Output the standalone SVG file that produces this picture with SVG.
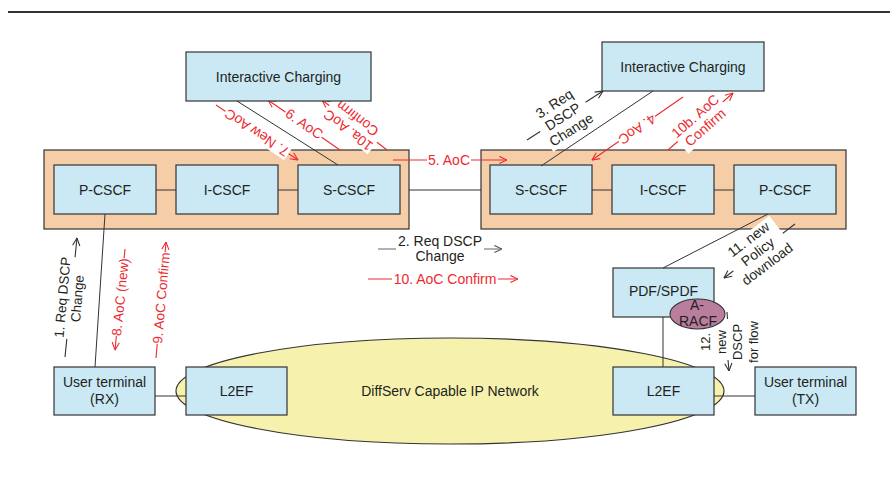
<svg xmlns="http://www.w3.org/2000/svg" width="893" height="478" viewBox="0 0 893 478">
<defs>
<style>
.t{font-family:"Liberation Sans",Arial,Helvetica,sans-serif;font-size:14px;fill:#231f20;text-anchor:middle}
.s13{font-size:13.5px}
.s12{font-size:13px}
.red{fill:#ed2a2f}
.box{fill:#cae9f5;stroke:#333;stroke-width:1.2}
.grp{fill:#f5cea7;stroke:#333;stroke-width:1.2}
.link{stroke:#333;stroke-width:1;fill:none}
.mk{stroke:#333;stroke-width:1.1;fill:none}
.mr{stroke:#ed2a2f;stroke-width:1.1;fill:none}
.mg{stroke:#666;stroke-width:1.1;fill:none}
.bg{fill:#fff}
</style>
<marker id="ak" viewBox="0 0 10 10" refX="9.5" refY="5" markerWidth="9" markerHeight="9" markerUnits="userSpaceOnUse" orient="auto"><path d="M1,1 L9.5,5 L1,9" fill="none" stroke="#333" stroke-width="1.2"/></marker>
<marker id="ar" viewBox="0 0 10 10" refX="9.5" refY="5" markerWidth="9" markerHeight="9" markerUnits="userSpaceOnUse" orient="auto"><path d="M1,1 L9.5,5 L1,9" fill="none" stroke="#ed2a2f" stroke-width="1.2"/></marker>
<marker id="ag" viewBox="0 0 10 10" refX="9.5" refY="5" markerWidth="9" markerHeight="9" markerUnits="userSpaceOnUse" orient="auto"><path d="M1,1 L9.5,5 L1,9" fill="none" stroke="#555" stroke-width="1.2"/></marker>
</defs>

<line x1="8" y1="12" x2="890" y2="12" stroke="#333" stroke-width="2"/>

<g id="domain-left"><rect class="grp" x="44" y="150" width="365" height="79"/></g>
<g id="domain-right"><rect class="grp" x="481" y="150" width="365" height="79"/></g>

<g id="messages">
  <g id="msg1">
    <line class="mk" x1="65" y1="357" x2="77" y2="238" marker-end="url(#ak)"/>
    <g transform="translate(71,298) rotate(-85)"><rect class="bg" x="-41" y="-16" width="82" height="31"/><text class="t s13" y="-4">1. Req DSCP</text><text class="t s13" y="11">Change</text></g>
  </g>
  <g id="msg8">
    <line class="mr" x1="125" y1="249" x2="115" y2="350" marker-end="url(#ar)"/>
    <g transform="translate(120,297) rotate(-84.3)"><rect class="bg" x="-39" y="-8" width="78" height="16"/><text class="t s13 red" y="5">8. AoC (new)</text></g>
  </g>
  <g id="msg9">
    <line class="mr" x1="156" y1="358" x2="166" y2="242" marker-end="url(#ar)"/>
    <g transform="translate(161,298) rotate(-85.1)"><rect class="bg" x="-46" y="-8" width="92" height="16"/><text class="t s13 red" y="5">9. AoC Confirm</text></g>
  </g>
  <g id="msg2">
    <line class="mg" x1="378" y1="249" x2="502" y2="249" marker-end="url(#ag)"/>
    <g transform="translate(440,249)"><rect class="bg" x="-44" y="-14" width="88" height="28"/><text class="t" y="-3">2. Req DSCP</text><text class="t" y="11.5">Change</text></g>
  </g>
  <g id="msg10">
    <line class="mr" x1="368" y1="279" x2="518" y2="279" marker-end="url(#ar)"/>
    <g transform="translate(445,279)"><rect class="bg" x="-53" y="-8" width="106" height="16"/><text class="t red" y="4.5">10. AoC Confirm</text></g>
  </g>
  <g id="msg5">
    <line class="mr" x1="393" y1="160" x2="507" y2="160" marker-end="url(#ar)"/>
    <g transform="translate(449,160)"><rect class="bg" x="-22" y="-8" width="44" height="16"/><text class="t red" y="4.5">5. AoC</text></g>
  </g>
  <g id="msg7">
    <line class="mr" x1="216" y1="105" x2="298" y2="160" marker-end="url(#ar)"/>
    <g transform="translate(257,132.5) rotate(213.8)"><rect class="bg" x="-38" y="-8" width="76" height="16"/><text class="t red" y="4.5">7. New AoC</text></g>
  </g>
  <g id="msg6">
    <line class="mr" x1="340" y1="150" x2="268" y2="100" marker-end="url(#ar)"/>
    <g transform="translate(304,124) rotate(34.8)"><rect class="bg" x="-22" y="-8" width="44" height="16"/><text class="t red" y="4.5">6. AoC</text></g>
  </g>
  <g id="msg10a">
    <line class="mr" x1="387" y1="150" x2="322" y2="100" marker-end="url(#ar)"/>
    <g transform="translate(353,124) rotate(217.6)"><rect class="bg" x="-30" y="-15" width="60" height="31"/><text class="t red" y="-3">10a. AoC</text><text class="t red" y="12">Confirm</text></g>
  </g>
  <g id="msg3">
    <line class="mk" x1="527" y1="140" x2="603" y2="91" marker-end="url(#ak)"/>
    <g transform="translate(563,117) rotate(-32.8)"><rect class="bg" x="-27" y="-22" width="54" height="46"/><text class="t" y="-11">3. Req</text><text class="t" y="4.5">DSCP</text><text class="t" y="20">Change</text></g>
  </g>
  <g id="msg4">
    <line class="mr" x1="683" y1="97" x2="592" y2="160" marker-end="url(#ar)"/>
    <g transform="translate(637,129) rotate(145.3)"><rect class="bg" x="-22" y="-8" width="44" height="16"/><text class="t red" y="4.5">4. AoC</text></g>
  </g>
  <g id="msg10b">
    <line class="mr" x1="668" y1="150" x2="733" y2="93" marker-end="url(#ar)"/>
    <g transform="translate(700.5,122) rotate(-41.2)"><rect class="bg" x="-30" y="-15" width="60" height="31"/><text class="t red" y="-3">10b. AoC</text><text class="t red" y="12">Confirm</text></g>
  </g>
  <g id="msg11">
    <line class="mk" x1="795" y1="224" x2="724" y2="278" marker-end="url(#ak)"/>
    <g transform="translate(758,252) rotate(-37.3)"><rect class="bg" x="-31" y="-22" width="62" height="46"/><text class="t" y="-11">11. new</text><text class="t" y="4.5">Policy</text><text class="t" y="20">download</text></g>
  </g>
  <g id="msg12">
    <line class="mk" x1="727" y1="312" x2="727.5" y2="319"/>
    <line class="mk" x1="728" y1="360" x2="729" y2="371" marker-end="url(#ak)"/>
    <g transform="translate(729,342) rotate(-90)"><text class="t s12" y="-19">12.</text><text class="t s12" y="-3">new</text><text class="t s12" y="13">DSCP</text><text class="t s12" y="29">for flow</text></g>
  </g>
</g>

<g id="ic-left"><rect class="box" x="186" y="52" width="185" height="49"/><text class="t" x="278.5" y="81.5">Interactive Charging</text></g>
<g id="ic-right"><rect class="box" x="602" y="42" width="162" height="49"/><text class="t" x="683" y="71.5">Interactive Charging</text></g>
<g id="pcscf-left"><rect class="box" x="54" y="165" width="102" height="49"/><text class="t" x="105" y="194.5">P-CSCF</text></g>
<g id="icscf-left"><rect class="box" x="176" y="165" width="102" height="49"/><text class="t" x="227" y="194.5">I-CSCF</text></g>
<g id="scscf-left"><rect class="box" x="298" y="165" width="102" height="49"/><text class="t" x="349" y="194.5">S-CSCF</text></g>
<g id="scscf-right"><rect class="box" x="490" y="165" width="102" height="49"/><text class="t" x="541" y="194.5">S-CSCF</text></g>
<g id="icscf-right"><rect class="box" x="612" y="165" width="102" height="49"/><text class="t" x="663" y="194.5">I-CSCF</text></g>
<g id="pcscf-right"><rect class="box" x="734" y="165" width="102" height="49"/><text class="t" x="785" y="194.5">P-CSCF</text></g>
<g id="ip-network"><ellipse cx="450" cy="391" rx="274" ry="53" fill="#f6f2ae" stroke="#333" stroke-width="1.2"/><text class="t" x="450" y="396">DiffServ Capable IP Network</text></g>
<g id="l2ef-left"><rect class="box" x="186" y="367" width="101" height="48"/><text class="t" x="236.5" y="396">L2EF</text></g>
<g id="l2ef-right"><rect class="box" x="613" y="367" width="101" height="48"/><text class="t" x="663.5" y="396">L2EF</text></g>
<g id="ue-rx"><rect class="box" x="54" y="367" width="101" height="48"/><text class="t" x="104.5" y="387">User terminal</text><text class="t" x="104.5" y="404">(RX)</text></g>
<g id="ue-tx"><rect class="box" x="755" y="367" width="101" height="48"/><text class="t" x="805.5" y="387">User terminal</text><text class="t" x="805.5" y="404">(TX)</text></g>
<g id="pdf-spdf"><rect class="box" x="613" y="268" width="101" height="49"/><text class="t" x="663.5" y="296">PDF/SPDF</text></g>
<g id="a-racf"><ellipse cx="697.5" cy="314" rx="27.5" ry="15" fill="#b97d9e" stroke="#333" stroke-width="1.1"/><text class="t" x="697" y="310">A-</text><text class="t" x="698" y="326">RACF</text></g>

<g id="links" class="link">
  <line x1="156" y1="190" x2="176" y2="190"/>
  <line x1="278" y1="190" x2="298" y2="190"/>
  <line x1="409" y1="190" x2="481" y2="190"/>
  <line x1="592" y1="190" x2="612" y2="190"/>
  <line x1="714" y1="190" x2="734" y2="190"/>
  <line x1="105" y1="214" x2="95" y2="367"/>
  <line x1="237" y1="101" x2="338" y2="165"/>
  <line x1="653" y1="91" x2="541" y2="166"/>
  <line x1="768" y1="214" x2="663" y2="268"/>
  <line x1="663" y1="317" x2="663" y2="367"/>
  <line x1="155" y1="396" x2="186" y2="396"/>
  <line x1="714" y1="396" x2="755" y2="396"/>
</g>
</svg>
